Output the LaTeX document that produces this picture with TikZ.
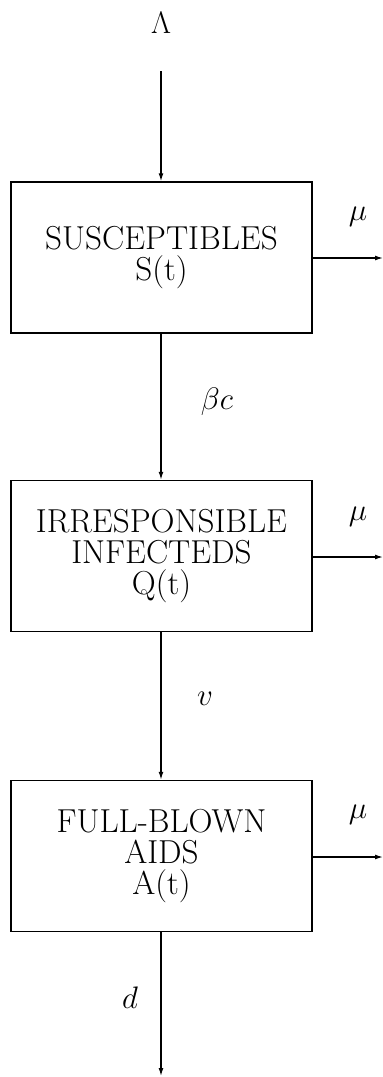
\documentclass[tikz,border=0pt]{standalone}
\usepackage{graphicx}
\usetikzlibrary{arrows.meta}
\newcommand{\ratelabel}[1]{\scalebox{1.25}{$#1$}}
\begin{document}
\begin{tikzpicture}[x=1pt,y=-1pt,
  compartment/.style={draw, line width=1.5pt, rectangle, minimum width=301pt, minimum height=151pt, inner sep=0pt, align=center, font=\fontsize{33.2}{31}\selectfont},
  flow/.style={line width=1.3pt, -{Latex[length=8pt,width=5pt]}},
  rate/.style={inner sep=0pt, font=\fontsize{24.88}{28}\selectfont}]
\useasboundingbox (0,0) rectangle (383,1077);
\fill[white] (0,0) rectangle (383,1077);
\node[compartment] (S) at (161.5,257.5) {SUSCEPTIBLES\\S(t)};
\node[compartment] (Q) at (161.5,556) {IRRESPONSIBLE\\INFECTEDS\\Q(t)};
\node[compartment] (A) at (161.5,856) {FULL-BLOWN\\AIDS\\A(t)};
\node[rate] (lam) at (161,23) {\ratelabel{\Lambda}};
\coordinate (in) at (161,71);
\coordinate (out) at (161,1076);
\coordinate (mS) at (383,258);
\coordinate (mQ) at (383,557);
\coordinate (mA) at (383,857);
\node[rate] (muS) at (358,217) {\ratelabel{\mu}};
\node[rate] (muQ) at (358,517) {\ratelabel{\mu}};
\node[rate] (muA) at (358,815) {\ratelabel{\mu}};
\node[rate] (bc) at (217,402) {\ratelabel{\beta c}};
\node[rate] (nu) at (205,699) {\ratelabel{v}};
\node[rate] (dd) at (130,998) {\ratelabel{d}};
\draw[flow] (in) -- (S.north -| in);
\draw[flow] (S.south -| in) -- (Q.north -| in);
\draw[flow] (Q.south -| in) -- (A.north -| in);
\draw[flow] (A.south -| in) -- (out);
\draw[flow] (S.east |- mS) -- (mS);
\draw[flow] (Q.east |- mQ) -- (mQ);
\draw[flow] (A.east |- mA) -- (mA);
\end{tikzpicture}
\end{document}
